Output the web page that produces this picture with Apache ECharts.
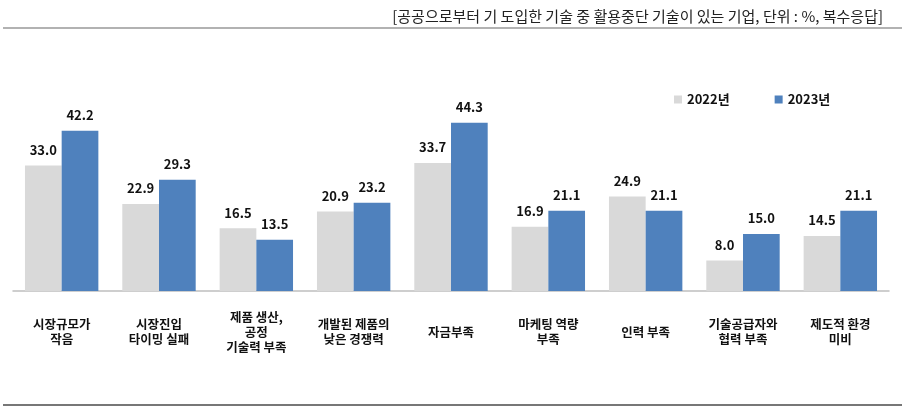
<!DOCTYPE html>
<html>
<head>
<meta charset="utf-8">
<script src="https://cdn.jsdelivr.net/npm/echarts@6/dist/echarts.min.js"></script>
<style>
html,body{margin:0;padding:0;background:#fff;}
#main{width:905px;height:414px;}
</style>
</head>
<body>
<div id="main"></div>
<script>
const categories = ['시장규모가\n작음','시장진입\n타이밍 실패','제품 생산,\n공정\n기술력 부족','개발된 제품의\n낮은 경쟁력','자금부족','마케팅 역량\n부족','인력 부족','기술공급자와\n협력 부족','제도적 환경\n미비'];
const seriesNames = ['2022년','2023년'];
const values2022 = [33.0, 22.9, 16.5, 20.9, 33.7, 16.9, 24.9, 8.0, 14.5];
const values2023 = [42.2, 29.3, 13.5, 23.2, 44.3, 21.1, 21.1, 15.0, 21.1];
const titleText = '[공공으로부터 기 도입한 기술 중 활용중단 기술이 있는 기업, 단위 : %, 복수응답]';

const font = '"Noto Sans CJK KR", "Noto Sans", sans-serif';
const chart = echarts.init(document.getElementById('main'));
const labelStyle = {
  show: true, position: 'top', distance: 9,
  fontFamily: font, fontSize: 13, fontWeight: 'bold', color: '#111',
  formatter: p => p.value.toFixed(1)
};
chart.setOption({
  animation: false,
  title: {
    text: titleText, right: 17, top: 4,
    textStyle: {fontFamily: font, fontSize: 15, fontWeight: 'normal', color: '#222'}
  },
  legend: {
    data: seriesNames, left: 669, top: 88, itemWidth: 8, itemHeight: 8, itemGap: 45,
    icon: 'rect',
    textStyle: {fontFamily: font, fontSize: 13, fontWeight: 'bold', color: '#111'}
  },
  graphic: [
    {type: 'line', shape: {x1: 3, y1: 28, x2: 902, y2: 28}, style: {stroke: '#999', lineWidth: 1.5}},
    {type: 'line', shape: {x1: 3, y1: 405, x2: 902, y2: 405}, style: {stroke: '#777', lineWidth: 2}}
  ],
  grid: {left: 13, right: 16, top: 63, bottom: 123, containLabel: false},
  xAxis: {
    type: 'category', data: categories,
    axisLine: {lineStyle: {color: '#BFBFBF', width: 1.5}},
    axisTick: {show: false},
    axisLabel: {
      interval: 0, margin: 41, verticalAlign: 'middle', lineHeight: 15,
      fontFamily: font, fontSize: 12.5, fontWeight: 'bold', color: '#111'
    }
  },
  yAxis: {type: 'value', min: 0, max: 60, show: false, splitLine: {show: false}},
  series: [
    {name: seriesNames[0], type: 'bar', data: values2022, barWidth: '37.7%', barGap: '0%',
     itemStyle: {color: '#D9D9D9'}, label: labelStyle},
    {name: seriesNames[1], type: 'bar', data: values2023, barWidth: '37.7%', barGap: '0%',
     itemStyle: {color: '#4F81BD'}, label: labelStyle}
  ]
});
</script>
</body>
</html>
